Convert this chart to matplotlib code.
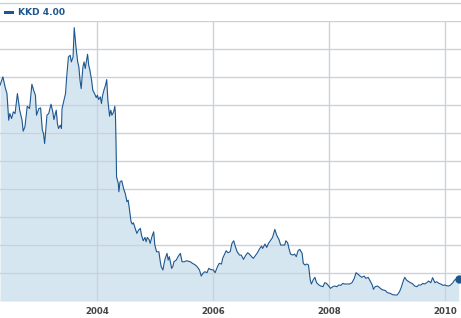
import matplotlib
matplotlib.use("Agg")
import matplotlib.pyplot as plt
from matplotlib.patches import Rectangle
from matplotlib.lines import Line2D

# KKD weekly close (decimal year, price in $)
years = [
    2002.32, 2002.37, 2002.41, 2002.44, 2002.47, 2002.49, 2002.52, 2002.55, 2002.58, 2002.62,
    2002.66, 2002.70, 2002.72, 2002.75, 2002.79, 2002.83, 2002.87, 2002.90, 2002.93, 2002.95,
    2002.99, 2003.02, 2003.05, 2003.07, 2003.09, 2003.13, 2003.16, 2003.20, 2003.23, 2003.25,
    2003.29, 2003.31, 2003.33, 2003.36, 2003.38, 2003.39, 2003.41, 2003.45, 2003.47, 2003.50,
    2003.53, 2003.55, 2003.58, 2003.60, 2003.63, 2003.66, 2003.68, 2003.70, 2003.72, 2003.75,
    2003.77, 2003.79, 2003.83, 2003.85, 2003.87, 2003.90, 2003.92, 2003.95, 2003.98, 2004.00,
    2004.02, 2004.05, 2004.07, 2004.09, 2004.12, 2004.14, 2004.16, 2004.18, 2004.21, 2004.23,
    2004.25, 2004.28, 2004.30, 2004.31, 2004.32, 2004.33, 2004.36, 2004.37, 2004.39, 2004.42,
    2004.45, 2004.48, 2004.51, 2004.53, 2004.55, 2004.58, 2004.60, 2004.62, 2004.66, 2004.68,
    2004.71, 2004.74, 2004.76, 2004.79, 2004.82, 2004.84, 2004.86, 2004.89, 2004.91, 2004.94,
    2004.97, 2004.99, 2005.02, 2005.06, 2005.08, 2005.10, 2005.13, 2005.15, 2005.17, 2005.20,
    2005.22, 2005.24, 2005.28, 2005.30, 2005.32, 2005.36, 2005.39, 2005.43, 2005.46, 2005.50,
    2005.54, 2005.60, 2005.64, 2005.69, 2005.72, 2005.76, 2005.79, 2005.82, 2005.85, 2005.89,
    2005.92, 2005.95, 2006.00, 2006.03, 2006.07, 2006.10, 2006.14, 2006.16, 2006.20, 2006.22,
    2006.25, 2006.29, 2006.32, 2006.35, 2006.38, 2006.41, 2006.45, 2006.48, 2006.52, 2006.55,
    2006.59, 2006.62, 2006.66, 2006.69, 2006.72, 2006.76, 2006.79, 2006.83, 2006.85, 2006.89,
    2006.92, 2006.95, 2006.99, 2007.02, 2007.06, 2007.09, 2007.13, 2007.16, 2007.20, 2007.23,
    2007.25, 2007.28, 2007.31, 2007.33, 2007.37, 2007.40, 2007.43, 2007.46, 2007.49, 2007.53,
    2007.55, 2007.58, 2007.61, 2007.64, 2007.67, 2007.69, 2007.72, 2007.75, 2007.78, 2007.82,
    2007.85, 2007.89, 2007.92, 2007.95, 2007.99, 2008.02, 2008.06, 2008.09, 2008.13, 2008.16,
    2008.20, 2008.23, 2008.26, 2008.30, 2008.35, 2008.39, 2008.43, 2008.46, 2008.49, 2008.53,
    2008.56, 2008.60, 2008.63, 2008.67, 2008.70, 2008.74, 2008.76, 2008.79, 2008.83, 2008.86,
    2008.90, 2008.93, 2008.97, 2009.00, 2009.05, 2009.09, 2009.14, 2009.17, 2009.21, 2009.24,
    2009.28, 2009.30, 2009.33, 2009.37, 2009.40, 2009.44, 2009.47, 2009.51, 2009.54, 2009.58,
    2009.61, 2009.64, 2009.68, 2009.71, 2009.75, 2009.78, 2009.82, 2009.85, 2009.89, 2009.92,
    2009.96, 2009.99, 2010.02, 2010.06, 2010.09, 2010.13, 2010.16, 2010.20, 2010.23,
]
prices = [
    38.57, 40.06, 38.15, 37.08, 32.32, 33.51, 32.62, 33.81, 33.51, 37.08,
    34.11, 32.32, 30.36, 31.13, 34.82, 34.40, 38.75, 37.68, 36.79, 33.21,
    34.40, 34.52, 30.54, 29.94, 28.15, 33.21, 33.51, 35.18, 33.81, 32.44,
    34.11, 31.72, 30.83, 31.43, 30.83, 34.40, 35.30, 37.08, 40.06, 43.63,
    43.93, 42.74, 43.63, 48.87, 45.41, 42.74, 41.84, 39.46, 37.97, 41.84,
    42.74, 41.55, 44.11, 42.14, 41.25, 39.46, 37.68, 37.08, 36.37, 36.79,
    36.01, 36.49, 35.30, 36.79, 37.97, 38.57, 39.58, 35.89, 33.03, 34.11,
    33.21, 33.81, 34.82, 33.51, 28.75, 22.20, 21.01, 19.52, 21.31, 21.49,
    20.12, 19.22, 17.74, 18.03, 16.55, 14.17, 13.75, 13.99, 12.68, 12.08,
    12.68, 12.98, 11.79, 10.77, 11.37, 10.59, 11.37, 11.01, 10.30, 11.49,
    12.38, 10.00, 8.81, 8.81, 7.32, 6.13, 5.54, 6.73, 7.62, 8.51,
    7.32, 7.92, 5.83, 6.13, 7.02, 7.32, 7.92, 8.51, 7.02, 7.02,
    7.20, 7.02, 6.73, 6.43, 6.13, 5.54, 4.46, 4.94, 5.24, 5.06,
    5.83, 5.65, 5.54, 5.06, 6.13, 6.73, 6.61, 7.62, 8.51, 8.99,
    8.63, 8.81, 10.30, 10.77, 9.70, 8.81, 8.21, 8.21, 7.44, 8.04,
    8.63, 8.39, 7.92, 7.62, 8.04, 8.63, 9.23, 9.82, 9.40, 10.18,
    9.58, 10.30, 10.89, 11.37, 12.80, 11.79, 11.01, 10.00, 10.00, 10.00,
    10.77, 10.42, 9.11, 8.39, 8.21, 8.39, 7.92, 8.99, 9.23, 8.51,
    6.73, 6.43, 6.61, 6.43, 3.75, 3.04, 3.75, 4.23, 3.27, 2.86,
    2.68, 2.56, 3.27, 3.15, 2.68, 2.26, 2.56, 2.68, 2.56, 2.86,
    2.80, 3.15, 3.04, 3.04, 3.04, 3.27, 4.05, 5.06, 4.82, 4.46,
    4.23, 4.46, 4.05, 4.23, 3.63, 2.86, 2.08, 2.56, 2.68, 2.44,
    2.08, 1.96, 1.85, 1.49, 1.37, 1.13, 1.07, 1.07, 1.67, 2.44,
    3.75, 4.23, 3.75, 3.45, 3.27, 3.04, 2.68, 2.56, 2.86, 2.86,
    3.15, 3.04, 3.27, 3.57, 3.27, 4.17, 3.27, 3.45, 3.15, 3.04,
    2.80, 2.86, 2.74, 2.68, 2.86, 3.27, 3.75, 3.93, 4.00,
]
year_ticks = [2004, 2006, 2008, 2010]
ticker = "KKD"

line_color = "#1d5790"
fill_color = "#d6e6f1"
grid_color = "#c8d2dc"

fig = plt.figure(figsize=(4.61, 3.18), dpi=100)
ax = fig.add_axes([0, 17 / 318, 1, (301 - 21.3) / 318])

ax.fill_between(years, prices, 0, color=fill_color, lw=0, zorder=1)
ax.plot(years, prices, color=line_color, lw=0.8, zorder=3)
ax.plot(years[-1], prices[-1], "o", color=line_color, ms=5, zorder=4, clip_on=False)

ax.set_xlim(2002.32, 2010.27)
ax.set_ylim(0, 50)

# grid
for v in range(0, 51, 5):
    ax.axhline(v, color=grid_color, lw=1, zorder=2)
for yr in year_ticks:
    ax.axvline(yr, color=grid_color, lw=1, zorder=2)

ax.set_xticks(year_ticks)
ax.set_xticklabels([str(y) for y in year_ticks], fontsize=6.2, fontweight="bold", color="#444444")
ax.tick_params(axis="x", length=0, pad=4)
ax.set_yticks([])
for s in ax.spines.values():
    s.set_visible(False)

# top rule + legend
fig.add_artist(Line2D([0, 1], [1 - 3.3 / 318, 1 - 3.3 / 318], color=grid_color, lw=1))
fig.add_artist(Rectangle((4 / 461, 1 - 14.2 / 318), 10 / 461, 3.5 / 318, color=line_color, lw=0))
fig.text(18 / 461, 1 - 12.6 / 318, f"{ticker} {prices[-1]:.2f}", fontsize=6.6, fontweight="bold",
         color=line_color, va="center", ha="left")

fig.savefig("out.png", dpi=100)
